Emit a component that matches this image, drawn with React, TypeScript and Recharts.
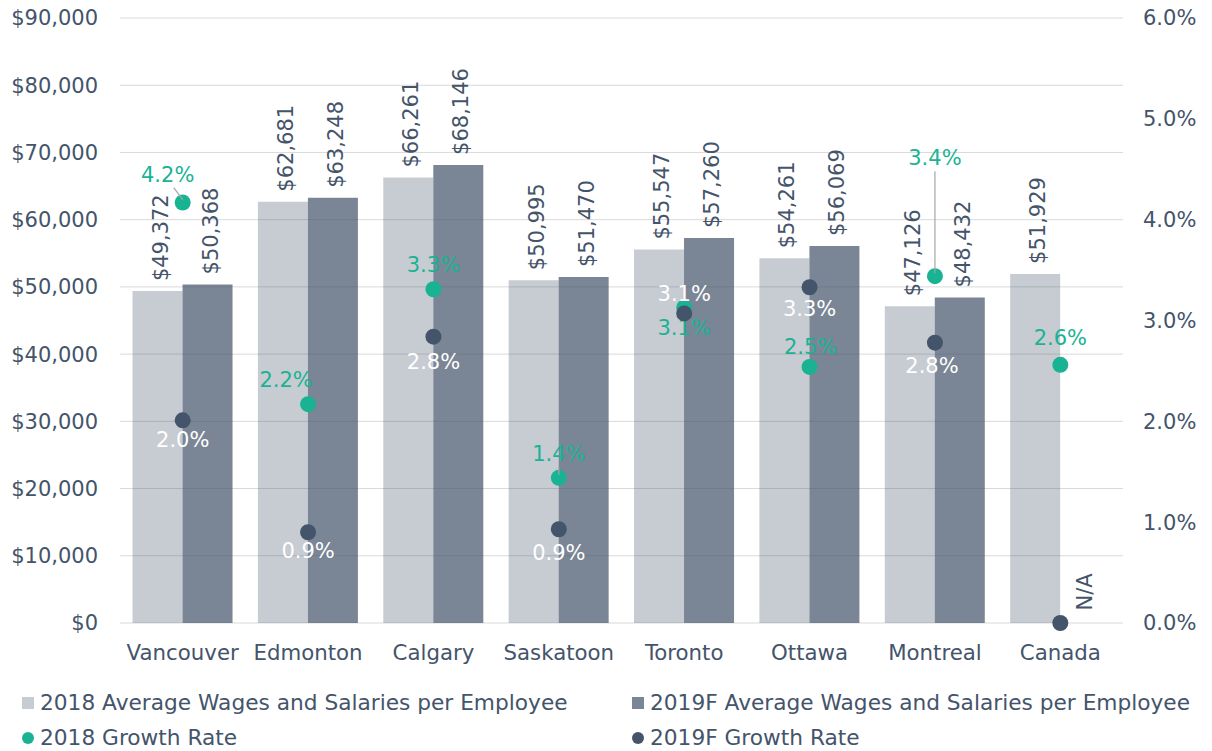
import React from "react";
import {
  ComposedChart,
  Bar,
  Scatter,
  XAxis,
  YAxis,
  CartesianGrid,
  Legend,
  LabelList,
} from "recharts";

const cities = ["Vancouver", "Edmonton", "Calgary", "Saskatoon", "Toronto", "Ottawa", "Montreal", "Canada"];
const wages2018 = [49372, 62681, 66261, 50995, 55547, 54261, 47126, 51929];
const wages2019F = [50368, 63248, 68146, 51470, 57260, 56069, 48432, null];
const growth2018 = [4.17, 2.17, 3.31, 1.44, 3.13, 2.54, 3.44, 2.56];
const growth2019F = [2.01, 0.9, 2.84, 0.93, 3.07, 3.33, 2.78, 0];
const growth2019FText = ["2.0%", "0.9%", "2.8%", "0.9%", "3.1%", "3.3%", "2.8%", "N/A"];

const moneyTicks = [0, 10000, 20000, 30000, 40000, 50000, 60000, 70000, 80000, 90000];
const pctTicks = [0, 1, 2, 3, 4, 5, 6];

// label placement around the dots: [dx, dy, leader line]
const tealLabelPos: [number, number, boolean][] = [
  [-15, -28, true],
  [-22, -24, false],
  [0, -24, false],
  [0, -24, true],
  [0, 21, false],
  [1, -20, false],
  [0, -118, true],
  [0, -27, false],
];
const navyLabelPos: [number, number][] = [
  [0, 20],
  [0, 19],
  [0, 25],
  [0, 24],
  [0, -19],
  [0, 22],
  [-3, 23],
  [25, -31],
];

const TEXT = "#44546a";
const TEAL = "#19b394";
const NAVY = "#44546a";
const FONT = "'DejaVu Sans', Verdana, sans-serif";

const data = cities.map((city, i) => ({
  city,
  w2018: wages2018[i],
  w2019: wages2019F[i],
  g2018: growth2018[i],
  g2019: growth2019F[i],
}));

const money = (v: number) => "$" + v.toLocaleString("en-US");

const BarValue = (props: any) => {
  const { x, y, width, value } = props;
  if (value == null) return null;
  const cx = x + width / 2 + 10;
  const ty = y - 10;
  return (
    <text
      transform={`translate(${cx},${ty}) rotate(-90)`}
      textAnchor="start"
      fontSize={21}
      fontFamily={FONT}
      fill={TEXT}
    >
      {money(value)}
    </text>
  );
};

const TealDot = (props: any) => {
  const { cx, cy, payload } = props;
  const i = cities.indexOf(payload.city);
  const [dx, dy, leader] = tealLabelPos[i];
  return (
    <g>
      <circle cx={cx} cy={cy} r={8} fill={TEAL} />
      {leader && (
        <line x1={cx + dx * 0.6} y1={cy + dy + 13} x2={cx} y2={cy - 3} stroke="#a6a6a6" strokeWidth={1.2} />
      )}
      <text
        x={cx + dx}
        y={cy + dy}
        textAnchor="middle"
        dominantBaseline="central"
        fontSize={21}
        fontFamily={FONT}
        fill={TEAL}
      >
        {growth2018[i].toFixed(1) + "%"}
      </text>
    </g>
  );
};

const NavyDot = (props: any) => {
  const { cx, cy, payload } = props;
  const i = cities.indexOf(payload.city);
  const [dx, dy] = navyLabelPos[i];
  const label = growth2019FText[i];
  const na = label === "N/A";
  return (
    <g>
      <circle cx={cx} cy={cy} r={8} fill={NAVY} />
      <text
        transform={`translate(${cx + dx},${cy + dy})${na ? " rotate(-90)" : ""}`}
        textAnchor="middle"
        dominantBaseline="central"
        fontSize={21}
        fontFamily={FONT}
        fill={na ? TEXT : "#ffffff"}
      >
        {label}
      </text>
    </g>
  );
};

const legendItems = [
  { label: "2018 Average Wages and Salaries per Employee", color: NAVY, opacity: 0.3, shape: "square", left: 22, top: 32 },
  { label: "2019F Average Wages and Salaries per Employee", color: NAVY, opacity: 0.71, shape: "square", left: 632, top: 32 },
  { label: "2018 Growth Rate", color: TEAL, opacity: 1, shape: "circle", left: 22, top: 67 },
  { label: "2019F Growth Rate", color: NAVY, opacity: 1, shape: "circle", left: 632, top: 67 },
];

const renderLegend = () => (
  <div style={{ position: "relative", width: 1212, height: 80, fontFamily: FONT, fontSize: 21.7, color: TEXT }}>
    {legendItems.map((item) => (
      <div
        key={item.label}
        style={{
          position: "absolute",
          left: item.left,
          top: item.top,
          transform: "translateY(-50%)",
          display: "flex",
          alignItems: "center",
          whiteSpace: "nowrap",
          lineHeight: "24px",
        }}
      >
        <span
          style={{
            display: "inline-block",
            width: 12,
            height: 12,
            marginRight: 6,
            background: item.color,
            opacity: item.opacity,
            borderRadius: item.shape === "circle" ? "50%" : 0,
          }}
        />
        {item.label}
      </div>
    ))}
  </div>
);

export default function App() {
  return (
    <div style={{ position: "absolute", left: 0, top: 0, background: "#fff" }}>
      <ComposedChart
        width={1212}
        height={751}
        data={data}
        margin={{ top: 18, right: 0, bottom: 0, left: 0 }}
        barCategoryGap="10%"
        barGap={0}
      >
        <CartesianGrid vertical={false} stroke="#d9d9d9" yAxisId="money" />
        <XAxis
          dataKey="city"
          height={48}
          axisLine={false}
          tickLine={false}
          tickSize={0}
          tickMargin={22}
          tick={{ fill: TEXT, fontSize: 21.3, fontFamily: FONT }}
          interval={0}
        />
        <YAxis
          yAxisId="money"
          orientation="left"
          width={120}
          domain={[0, 90000]}
          ticks={moneyTicks}
          tickFormatter={money}
          axisLine={false}
          tickLine={false}
          tickSize={0}
          tickMargin={22}
          tick={{ fill: TEXT, fontSize: 21, fontFamily: FONT }}
        />
        <YAxis
          yAxisId="pct"
          orientation="right"
          width={89}
          domain={[0, 6]}
          ticks={pctTicks}
          tickFormatter={(v: number) => v.toFixed(1) + "%"}
          axisLine={false}
          tickLine={false}
          tickSize={0}
          tickMargin={20}
          tick={{ fill: TEXT, fontSize: 21, fontFamily: FONT, textAnchor: "start" }}
        />
        <Legend verticalAlign="bottom" content={renderLegend} />
        <Bar yAxisId="money" dataKey="w2018" fill={NAVY} fillOpacity={0.3} isAnimationActive={false}>
          <LabelList dataKey="w2018" content={BarValue} />
        </Bar>
        <Bar yAxisId="money" dataKey="w2019" fill={NAVY} fillOpacity={0.71} isAnimationActive={false}>
          <LabelList dataKey="w2019" content={BarValue} />
        </Bar>
        <Scatter yAxisId="pct" dataKey="g2018" shape={TealDot} isAnimationActive={false} />
        <Scatter yAxisId="pct" dataKey="g2019" shape={NavyDot} isAnimationActive={false} />
      </ComposedChart>
    </div>
  );
}
